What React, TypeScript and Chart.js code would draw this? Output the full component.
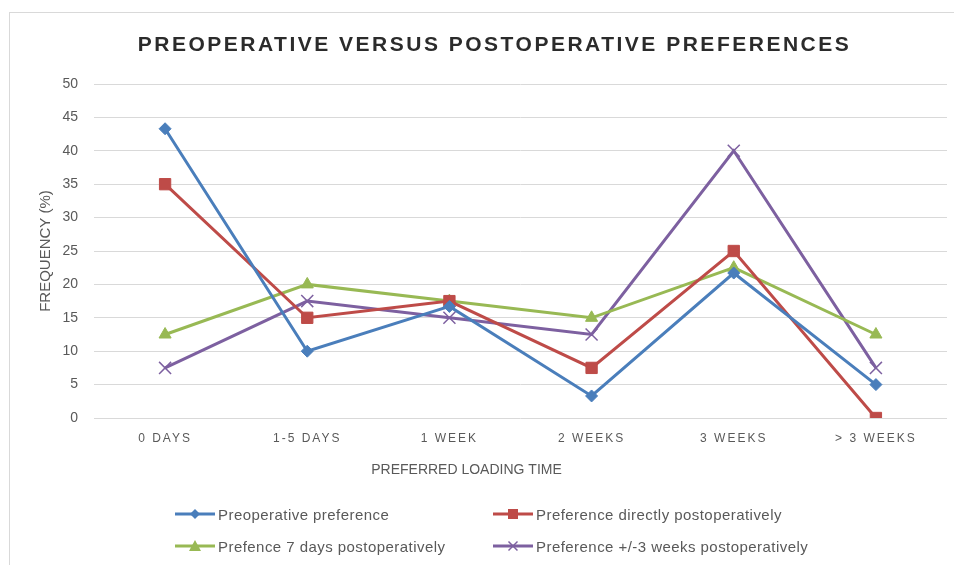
import React, { useEffect, useRef } from "react";
import { Chart, registerables } from "chart.js";

Chart.register(...registerables);

const categories = ["0 DAYS", "1-5 DAYS", "1 WEEK", "2 WEEKS", "3 WEEKS", "> 3 WEEKS"];
const preoperative = [43.3, 10, 16.7, 3.3, 21.7, 5];
const directlyPostop = [35, 15, 17.5, 7.5, 25, 0];
const sevenDaysPostop = [12.5, 20, 17.5, 15, 22.5, 12.5];
const threeWeeksPostop = [7.5, 17.5, 15, 12.5, 40, 7.5];

const seriesNames = [
  "Preoperative preference",
  "Preference directly postoperatively",
  "Prefence 7 days postoperatively",
  "Preference +/-3 weeks postoperatively",
];
const seriesColors = ["#4A7EBB", "#BE4B48", "#98B954", "#7D60A0"];
const titleText = "PREOPERATIVE VERSUS POSTOPERATIVE PREFERENCES";
const yTitle = "FREQUENCY (%)";
const xTitle = "PREFERRED LOADING TIME";

const FONT = "'Liberation Sans', Arial, sans-serif";
const TEXT = "#595959";

const patchPlugin = {
  id: "patchText",
  beforeDraw(chart: any) {
    const ctx = chart.ctx;
    const tb = chart.titleBlock;
    if (tb && !tb.__patched) {
      const orig = tb.draw.bind(tb);
      tb.draw = (a: any) => {
        ctx.save();
        ctx.letterSpacing = "2.5px";
        ctx.translate(16, 0);
        orig(a);
        ctx.restore();
      };
      tb.__patched = true;
    }
    const xs = chart.scales.x;
    if (xs && !xs.__patched) {
      const origL = xs.drawLabels.bind(xs);
      xs.drawLabels = (a: any) => {
        ctx.save();
        ctx.letterSpacing = "2px";
        origL(a);
        ctx.restore();
      };
      const origT = xs.drawTitle.bind(xs);
      xs.drawTitle = (a: any) => {
        ctx.save();
        ctx.translate(-54, 0);
        origT(a);
        ctx.restore();
      };
      xs.__patched = true;
    }
  },
};

function LegendIcon({ idx }: { idx: number }) {
  const c = seriesColors[idx];
  let marker: any = null;
  if (idx === 0) marker = <polygon points="20,2 25,7 20,12 15,7" fill={c} />;
  if (idx === 1) marker = <rect x={15} y={2} width={10} height={10} fill={c} />;
  if (idx === 2) marker = <polygon points="20,1 26,12 14,12" fill={c} />;
  if (idx === 3)
    marker = (
      <g stroke={c} strokeWidth={1.5}>
        <line x1={15.5} y1={2.5} x2={24.5} y2={11.5} />
        <line x1={24.5} y1={2.5} x2={15.5} y2={11.5} />
      </g>
    );
  return (
    <svg width={40} height={14} style={{ display: "block", marginRight: 3 }}>
      <line x1={0} y1={7} x2={40} y2={7} stroke={c} strokeWidth={3} />
      {marker}
    </svg>
  );
}

export default function App() {
  const ref = useRef<HTMLCanvasElement>(null);
  useEffect(() => {
    const seriesData = [preoperative, directlyPostop, sevenDaysPostop, threeWeeksPostop];
    const styles = ["rectRot", "rect", "triangle", "crossRot"];
    const radii = [6, 8, 7, 8.5];
    const chart = new Chart(ref.current as HTMLCanvasElement, {
      type: "line",
      data: {
        labels: categories,
        datasets: seriesData.map((d, i) => ({
          label: seriesNames[i],
          data: d,
          borderColor: seriesColors[i],
          backgroundColor: seriesColors[i],
          borderWidth: 3,
          pointStyle: styles[i] as any,
          pointRadius: radii[i],
          pointBorderWidth: i === 3 ? 1.5 : 1,
          pointBackgroundColor: seriesColors[i],
          pointBorderColor: seriesColors[i],
          tension: 0,
        })),
      },
      options: {
        responsive: false,
        maintainAspectRatio: false,
        animation: false,
        layout: { padding: { left: 0, right: 33, top: 0, bottom: 0 } },
        font: { family: FONT } as any,
        plugins: {
          legend: { display: false },
          tooltip: { enabled: false },
          title: {
            display: true,
            text: titleText,
            color: "#2b2b2b",
            font: { family: FONT, size: 21, weight: "bold" },
            padding: { top: 19.4, bottom: 26.4 },
          },
        },
        scales: {
          x: {
            type: "category",
            offset: true,
            grid: { display: false, drawTicks: false },
            border: { display: false },
            ticks: { color: TEXT, font: { family: FONT, size: 12 }, padding: 13.8, maxRotation: 0, autoSkip: false },
            title: {
              display: true,
              text: xTitle,
              color: TEXT,
              font: { family: FONT, size: 14 },
              padding: { top: 0, bottom: 94.1 },
            },
            afterFit: (s: any) => {
              s.height = 155;
            },
          },
          y: {
            min: 0,
            max: 50,
            grid: { color: "#d9d9d9", lineWidth: 1, drawTicks: false },
            border: { display: false },
            ticks: { stepSize: 5, color: TEXT, font: { family: FONT, size: 14 }, padding: 16 },
            title: {
              display: true,
              text: yTitle,
              color: TEXT,
              font: { family: FONT, size: 15 },
              padding: { top: 26.5, bottom: 0 },
            },
            afterFit: (s: any) => {
              s.width = 84;
            },
          },
        },
      },
      plugins: [patchPlugin],
    });
    return () => chart.destroy();
  }, []);

  const legendPos = [
    { left: 165, top: 501 },
    { left: 483, top: 501 },
    { left: 165, top: 533 },
    { left: 483, top: 533 },
  ];

  return (
    <div style={{ position: "fixed", left: 0, top: 0, width: 954, height: 565, overflow: "hidden", background: "#fff" }}>
      <div
        style={{
          position: "absolute",
          left: 9,
          top: 12,
          width: 970,
          height: 560,
          border: "1px solid #d9d9d9",
          background: "#fff",
        }}
      >
        <canvas ref={ref} width={970} height={560} style={{ display: "block", width: 970, height: 560 }} />
        {seriesNames.map((name, i) => (
          <div
            key={name}
            style={{
              position: "absolute",
              left: legendPos[i].left,
              top: legendPos[i].top - 10,
              height: 20,
              display: "flex",
              alignItems: "center",
              fontFamily: FONT,
              fontSize: 15,
              letterSpacing: "0.45px",
              color: TEXT,
              whiteSpace: "nowrap",
            }}
          >
            <LegendIcon idx={i} />
            <span>{name}</span>
          </div>
        ))}
      </div>
    </div>
  );
}
